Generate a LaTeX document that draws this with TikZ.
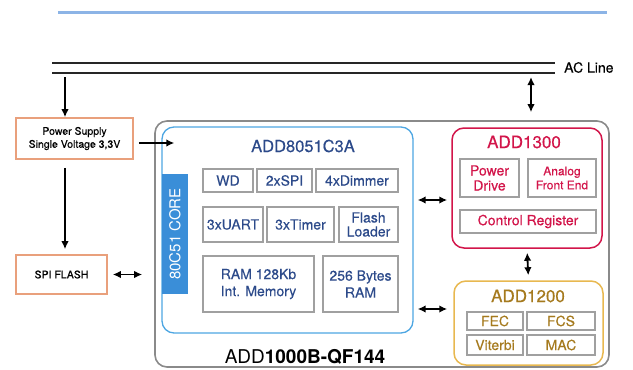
\documentclass[tikz,border=0pt]{standalone}
\usepackage{fontspec}
\setmainfont{TeX Gyre Heros}
\newfontfamily\med{TeX Gyre Heros}[FakeBold=0.35]
\usetikzlibrary{arrows.meta}
\definecolor{topblue}{HTML}{8CB4E6}
\definecolor{psorange}{HTML}{E9A07C}
\definecolor{outgray}{HTML}{8A8A8A}
\definecolor{mcublue}{HTML}{4DA6E2}
\definecolor{corefill}{HTML}{3A8ED8}
\definecolor{darkblue}{HTML}{2C4A8A}
\definecolor{inngray}{HTML}{A0A0A0}
\definecolor{redc}{HTML}{D2154A}
\definecolor{goldb}{HTML}{E8B850}
\definecolor{goldt}{HTML}{A57A1E}
\newcommand{\fs}[1]{\med\fontsize{#1}{#1}\selectfont}
\begin{document}
\begin{tikzpicture}[x=1pt,y=-1pt,
  arr/.style={line width=1.8pt,-{Latex[length=8pt,width=7.5pt]}},
  darr/.style={line width=1.8pt,{Latex[length=8pt,width=7.5pt]}-{Latex[length=8pt,width=7.5pt]}},
  psbox/.style={draw=psorange,line width=1.6pt,inner sep=0pt,font=\med\fontsize{10.5}{13}\selectfont,align=center},
  inbox/.style={draw=inngray,line width=1.8pt,inner sep=0pt,align=center},
  mcutext/.style={text=darkblue,font=\fs{14}},
  redtext/.style={text=redc,font=\fs{14}},
  goldtext/.style={text=goldt,font=\fs{14}}
]
\useasboundingbox (0,0) rectangle (633,370);
% top blue rule
\coordinate (bl1) at (58,12.3);
\coordinate (bl2) at (607,12.3);
\draw[topblue,line width=3.5pt] (bl1) -- (bl2);
% AC lines
\coordinate (ac1a) at (52,62.7);
\coordinate (ac1b) at (555,62.7);
\coordinate (ac2a) at (52,73.3);
\coordinate (ac2b) at (555,73.3);
\draw[line width=2pt,black!85] (ac1a) -- (ac1b);
\draw[line width=2pt,black!85] (ac2a) -- (ac2b);
\node[anchor=west,font=\fs{14},inner sep=0pt] (acl) at (564,67.5) {AC Line};
% left boxes
\node[psbox,minimum width=117pt,minimum height=41pt] (ps) at (74.5,138.5) {Power Supply\\Single Voltage 3,3V};
\node[psbox,minimum width=91pt,minimum height=39pt] (spi) at (61.5,274.5) {SPI FLASH};
% outer chip
\node[draw=outgray,line width=1.6pt,rounded corners=12pt,minimum width=454pt,minimum height=246pt] (chip) at (382,244) {};
\node[font=\fontsize{19}{19}\selectfont,inner sep=0pt] (chipl) at (305,357) {ADD\textbf{1000B-QF144}};
% MCU
\node[draw=mcublue,line width=1.3pt,rounded corners=12pt,minimum width=251pt,minimum height=206pt] (mcu) at (287.5,230) {};
\node[mcutext,font=\fs{16.5}] (mcut) at (303,146) {ADD8051C3A};
\node[fill=corefill,minimum width=26pt,minimum height=120pt,inner sep=0pt] (core) at (175,234) {};
\node[rotate=90,text=white,font=\fontsize{15}{15}\selectfont,inner sep=0pt] (coret) at (core.center) {80C51 CORE};
\node[inbox,mcutext,minimum width=50pt,minimum height=23pt] (wd) at (228,180.5) {WD};
\node[inbox,mcutext,minimum width=55pt,minimum height=23pt] (spi2) at (284.5,180.5) {2xSPI};
\node[inbox,mcutext,minimum width=82pt,minimum height=23pt] (dim) at (357,180.5) {4xDimmer};
\node[inbox,mcutext,minimum width=60pt,minimum height=35pt] (uart) at (233,224.5) {3xUART};
\node[inbox,mcutext,minimum width=67pt,minimum height=35pt] (tim) at (300.5,224.5) {3xTimer};
\node[inbox,mcutext,minimum width=59pt,minimum height=35pt,font=\med\fontsize{14}{14}\selectfont] (fl) at (368.5,224.5) {Flash\\Loader};
\node[inbox,mcutext,minimum width=111pt,minimum height=56pt,font=\med\fontsize{14}{17}\selectfont] (ram) at (258.5,284) {RAM 128Kb\\Int. Memory};
\node[inbox,mcutext,minimum width=75pt,minimum height=56pt,font=\med\fontsize{14}{17}\selectfont] (bytes) at (360.5,284) {256 Bytes\\RAM};
% ADD1300
\node[draw=redc,line width=1.5pt,rounded corners=12pt,minimum width=150pt,minimum height=120pt] (afe) at (527,188) {};
\node[redtext,font=\fs{17}] (afet) at (524,142) {ADD1300};
\node[inbox,redtext,minimum width=59pt,minimum height=38pt,font=\med\fontsize{14}{15}\selectfont] (pd) at (489.5,178) {Power\\Drive};
\node[inbox,redtext,minimum width=68pt,minimum height=38pt,font=\med\fontsize{12}{14}\selectfont] (af) at (562,178) {Analog\\Front End};
\node[inbox,redtext,minimum width=136pt,minimum height=23pt] (cr) at (528,221.5) {Control Register};
% ADD1200
\node[draw=goldb,line width=1.5pt,rounded corners=12pt,minimum width=149pt,minimum height=84pt] (plc) at (528.5,323) {};
\node[goldtext,font=\fs{17}] (plct) at (528,296) {ADD1200};
\node[inbox,goldtext,minimum width=56pt,minimum height=18pt] (fec) at (495,321) {FEC};
\node[inbox,goldtext,minimum width=68pt,minimum height=18pt] (fcs) at (561,321) {FCS};
\node[inbox,goldtext,minimum width=56pt,minimum height=20pt] (vit) at (495,345) {Viterbi};
\node[inbox,goldtext,minimum width=68pt,minimum height=20pt] (mac) at (561,345) {MAC};
% connectors
\coordinate (acd) at (65,77);
\coordinate (acu) at (531,77);
\draw[arr] (acd) -- (acd |- ps.north);
\draw[darr,shorten >=8pt] (acu) -- (acu |- chip.north);
\draw[arr,shorten <=8pt,shorten >=5pt] (ps.south -| acd) -- (spi.north -| acd);
\draw[arr,shorten <=5pt,shorten >=-13pt] (ps.east |- 0,143) -- (mcu.west |- 0,143);
\draw[darr,shorten <=5pt,shorten >=12pt] (spi.east) -- (spi.east -| chip.west);
\draw[darr,shorten <=4pt,shorten >=4pt] (mcu.east |- 0,200) -- (afe.west |- 0,200);
\draw[darr,shorten <=4pt,shorten >=6pt] (mcu.east |- 0,309) -- (plc.west |- 0,309);
\draw[darr,shorten <=4pt,shorten >=5pt] (afe.south) -- (plc.north);
\end{tikzpicture}
\end{document}
